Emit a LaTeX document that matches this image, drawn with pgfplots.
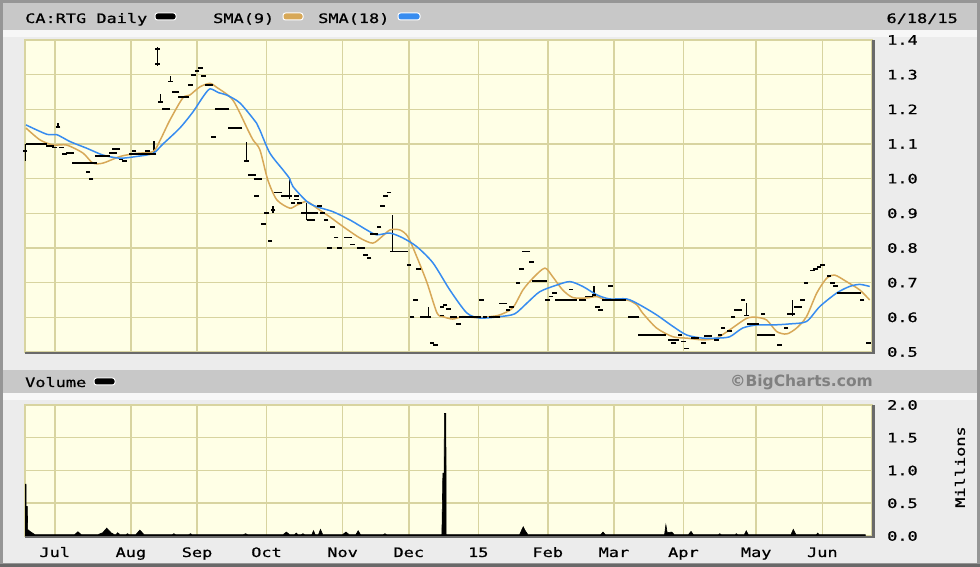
\documentclass[border=0pt]{standalone}
\usepackage{fontspec}
\usepackage{pgfplots}
\pgfplotsset{compat=1.18}
\newfontfamily\chartfont{DejaVu Sans Mono}[FakeStretch=1.3, FakeBold=0.8]
\newfontfamily\bcfont{DejaVu Sans Bold}
\newcommand\cf{\chartfont\fontsize{13pt}{15pt}\selectfont}
\definecolor{bgy}{RGB}{255,255,230}
\definecolor{gridc}{RGB}{216,212,160}
\definecolor{sma9}{RGB}{215,168,88}
\definecolor{sma18}{RGB}{55,140,240}
\definecolor{hdr}{RGB}{200,200,200}
\definecolor{panel}{RGB}{236,236,236}
\definecolor{framec}{RGB}{150,150,150}
\definecolor{shadowc}{RGB}{105,105,105}
\definecolor{bcgray}{RGB}{128,128,128}

\pgfplotstableread{
t p
0 1.08
1 1.10
2 1.10
3 1.10
4 1.10
5 1.10
6 1.10
7 1.095
8 1.095
9 1.09
10 1.15
11 1.09
12 1.07
13 1.075
14 1.075
15 1.045
16 1.045
17 1.045
18 1.045
19 1.045
19 1.02
20 1.045
20 1.00
21 1.045
22 1.065
23 1.065
24 1.065
25 1.065
26 1.075
27 1.075
27 1.085
28 1.085
29 1.055
30 1.05
32 1.07
33 1.07
33 1.08
34 1.07
35 1.07
36 1.07
37 1.07
37 1.08
38 1.07
39 1.07
40 1.33
40 1.375
41 1.22
42 1.20
43 1.20
44 1.28
45 1.25
46 1.25
47 1.235
48 1.235
49 1.235
50 1.27
51 1.30
52 1.31
53 1.32
54 1.295
55 1.27
56 1.27
57 1.12
58 1.20
59 1.20
60 1.20
61 1.20
62 1.145
63 1.145
64 1.145
65 1.145
67 1.05
68 1.01
69 1.01
70 1.00
70 0.95
71 1.00
72 0.87
73 0.90
74 0.82
75 0.91
76 0.96
77 0.96
78 0.95
79 0.95
80 0.95
81 0.93
82 0.94
82 0.95
83 0.93
84 0.90
85 0.90
86 0.90
86 0.88
87 0.90
87 0.88
88 0.90
89 0.92
90 0.90
91 0.88
92 0.80
93 0.86
94 0.83
95 0.80
97 0.83
98 0.83
99 0.81
101 0.80
102 0.80
103 0.78
104 0.77
105 0.84
106 0.84
107 0.86
108 0.92
109 0.95
110 0.96
111 0.79
112 0.79
113 0.79
114 0.79
115 0.79
116 0.75
117 0.60
118 0.65
119 0.74
120 0.60
121 0.60
122 0.60
123 0.525
124 0.52
126 0.63
126 0.605
127 0.635
128 0.625
129 0.60
130 0.60
131 0.58
132 0.60
133 0.60
134 0.60
135 0.60
136 0.60
137 0.60
138 0.65
139 0.60
141 0.60
142 0.60
143 0.60
144 0.64
145 0.64
146 0.62
147 0.63
149 0.70
150 0.74
151 0.79
152 0.79
153 0.76
154 0.705
155 0.705
156 0.705
157 0.705
158 0.65
159 0.66
160 0.67
161 0.65
162 0.65
163 0.65
164 0.65
165 0.65
165 0.68
166 0.65
168 0.65
169 0.65
170 0.66
171 0.66
172 0.665
173 0.63
174 0.62
175 0.65
176 0.65
177 0.65
177 0.69
178 0.65
179 0.65
180 0.65
181 0.65
183 0.60
184 0.60
185 0.60
186 0.55
187 0.55
188 0.55
189 0.55
190 0.55
191 0.55
192 0.55
193 0.55
195 0.535
196 0.535
196 0.525
197 0.535
198 0.55
199 0.53
200 0.51
202 0.54
203 0.54
205 0.525
206 0.545
207 0.545
209 0.535
210 0.55
211 0.57
213 0.56
214 0.60
215 0.62
216 0.62
217 0.65
218 0.605
219 0.58
220 0.58
221 0.58
222 0.55
223 0.55
223 0.61
224 0.55
225 0.55
226 0.55
228 0.52
230 0.57
231 0.61
232 0.61
233 0.63
234 0.63
235 0.65
236 0.70
238 0.735
239 0.74
240 0.745
241 0.75
243 0.72
244 0.70
245 0.69
246 0.67
247 0.67
248 0.67
249 0.67
250 0.67
251 0.67
252 0.67
253 0.65
255 0.525
}\closes

\pgfplotstableread{
t p
0.3 1.155
6.6 1.128
9.6 1.127
13.6 1.107
18.6 1.088
23.6 1.068
28.7 1.059
33.7 1.064
38.7 1.073
41.7 1.100
46.8 1.146
50.8 1.193
53.8 1.236
55.9 1.259
58.5 1.248
61 1.241
65 1.218
70 1.160
71 1.140
74 1.074
78 1.025
80 1.000
81 0.977
85.2 0.934
88.2 0.919
93 0.905
98.2 0.881
103.3 0.852
106.3 0.838
110.3 0.843
114.2 0.829
118.4 0.804
123.3 0.757
128.4 0.679
133.5 0.613
137.5 0.598
143.5 0.602
148 0.610
151.7 0.641
155.6 0.674
160.7 0.693
164.7 0.703
168.6 0.689
172.8 0.665
176.7 0.653
181.9 0.653
185.8 0.636
190.9 0.607
195.8 0.574
200 0.549
204.8 0.540
209 0.540
213 0.544
216.9 0.569
221.1 0.578
226 0.578
231.1 0.581
236.2 0.588
240.2 0.631
245.3 0.670
249.2 0.689
252.3 0.695
255.3 0.689
}\smaB

\pgfplotstableread{
t p
0.3 1.146
4.5 1.112
8.5 1.097
12.6 1.097
17.5 1.074
20.5 1.045
23.6 1.045
28.7 1.064
33.7 1.073
38.7 1.078
40.8 1.110
43.8 1.169
47.7 1.233
49.8 1.241
52.9 1.265
55.9 1.275
57.7 1.265
62.8 1.227
67.4 1.140
68.9 1.112
71 1.083
73.4 0.996
76.1 0.939
80 0.915
82.2 0.924
85.2 0.934
88.2 0.915
92.1 0.890
96.1 0.862
101.2 0.829
105.1 0.814
107.9 0.833
110.3 0.852
113.3 0.852
115.7 0.833
118.4 0.775
121.5 0.700
124.5 0.613
126.3 0.602
129.3 0.595
132.3 0.602
136.6 0.599
140.5 0.602
143.5 0.607
147.4 0.627
150.5 0.679
153.5 0.713
157.1 0.742
159.5 0.717
162.5 0.679
165.6 0.657
169.8 0.656
172.8 0.660
175.8 0.650
181.9 0.650
184.9 0.636
186.7 0.612
190.9 0.569
195.8 0.544
200 0.540
204.8 0.535
209 0.540
213 0.564
218.1 0.597
221.1 0.600
224.2 0.592
227.2 0.559
230.2 0.552
233.2 0.569
236.2 0.602
239.3 0.670
242.3 0.713
244.7 0.722
248.3 0.703
252.3 0.679
255.3 0.650
}\smaA

\pgfplotsset{
  bcaxis/.style={
    scale only axis,
    width=847pt,
    xmin=0, xmax=256,
    axis background/.style={fill=bgy},
    axis line style={draw=gridc, line width=1.2pt},
    grid=major,
    major grid style={draw=gridc, line width=1.5pt},
    major tick length=0pt,
    xtick={9,32,52,73,96,116,137,158,178,199,221,241},
    yticklabel pos=right,
    yticklabel style={anchor=west, inner sep=0pt, xshift=15pt, font=\cf},
  }
}

\begin{document}
\begin{tikzpicture}
\begin{scope}[x=1pt,y=1pt]
% frame and panels
\fill[framec] (0,0) rectangle (980,567);
\fill[panel] (3,4) rectangle (977,564);
\fill[shadowc] (0,0) rectangle (980,3);
\fill[hdr] (3,537) rectangle (977,564);
\fill[white!60!panel] (3,530) rectangle (977,537);
\fill[hdr] (3,174) rectangle (977,197);
\fill[white!60!panel] (3,167) rectangle (977,174);

% header texts
\node[anchor=base west, inner sep=0pt, font=\cf] at (25,544) {CA:RTG Daily};
\draw[white, line width=1pt, fill=black, rounded corners=2.5pt] (155,547) rectangle (176,554);
\node[anchor=base west, inner sep=0pt, font=\cf] at (213,544) {SMA(9)};
\draw[white, line width=1pt, fill=sma9, rounded corners=2.5pt] (283,547) rectangle (303,554);
\node[anchor=base west, inner sep=0pt, font=\cf] at (318,544) {SMA(18)};
\draw[white, line width=1pt, fill=sma18, rounded corners=2.5pt] (398,547) rectangle (420,554);
\node[anchor=base east, inner sep=0pt, font=\cf] at (958,544) {6/18/15};

\node[anchor=base west, inner sep=0pt, font=\cf] at (25,180) {Volume};
\draw[white, line width=1pt, fill=black, rounded corners=2.5pt] (94,182) rectangle (115,189);
\node[anchor=base east, inner sep=0pt, text=bcgray, font=\bcfont\fontsize{15.5pt}{17pt}\selectfont] at (873,180) {©BigCharts.com};
\end{scope}

% price panel
\begin{axis}[bcaxis, at={(25pt,215pt)}, anchor=south west, height=312pt,
  ymin=0.5, ymax=1.4,
  ytick={0.5,0.6,0.7,0.8,0.9,1.0,1.1,1.2,1.3,1.4},
  yticklabels={0.5,0.6,0.7,0.8,0.9,1.0,1.1,1.2,1.3,1.4},
  xticklabels={}]
\addplot[black, line width=1.3pt, unbounded coords=jump] coordinates {
 (0,1.05) (0,1.10) (0,nan)
 (10,1.15) (10,1.162) (10,nan)
 (39,1.07) (39,1.11) (39,nan)
 (40,1.325) (40,1.38) (40,nan)
 (41,1.22) (41,1.245) (41,nan)
 (44,1.28) (44,1.295) (44,nan)
 (67,1.05) (67,1.105) (67,nan)
 (75,0.90) (75,0.92) (75,nan)
 (80,0.94) (80,1.00) (80,nan)
 (85,0.88) (85,0.93) (85,nan)
 (111,0.79) (111,0.895) (111,nan)
 (122,0.60) (122,0.63) (122,nan)
 (172,0.665) (172,0.69) (172,nan)
 (218,0.605) (218,0.64) (218,nan)
 (232,0.605) (232,0.65)
};
\addplot[only marks, mark=-, mark size=2.3pt, mark options={line width=1.8pt, black}] table[x=t, y=p] {\closes};
\addplot[sma9, line width=1.5pt, smooth, tension=0.45] table[x=t, y=p] {\smaA};
\addplot[sma18, line width=1.5pt, smooth, tension=0.45] table[x=t, y=p] {\smaB};
\end{axis}

% volume panel
\begin{axis}[bcaxis, at={(25pt,31pt)}, anchor=south west, height=131pt,
  ymin=0, ymax=2,
  ytick={0,0.5,1,1.5,2},
  yticklabels={0.0,0.5,1.0,1.5,2.0},
  xticklabels={Jul,Aug,Sep,Oct,Nov,Dec,15,Feb,Mar,Apr,May,Jun},
  xticklabel style={anchor=base, inner sep=0pt, yshift=-21pt, font=\cf}]
\addplot[fill=black, draw=black, line width=0.6pt] coordinates {
 (0,0) (0,0.79) (0.3,0.79) (0.35,0.45) (0.7,0.45) (0.8,0.10) (1.5,0.07) (3,0.02)
 (15,0.02) (16,0.065) (17,0.02)
 (22,0.02) (23.5,0.05) (24.7,0.12) (26,0.05) (27,0.02)
 (27.5,0.02) (28,0.05) (28.7,0.02)
 (30.5,0.02) (31,0.035) (31.5,0.02)
 (33.5,0.02) (34.7,0.09) (36,0.02)
 (44.5,0.02) (45,0.035) (45.5,0.02)
 (49.5,0.02) (50,0.035) (50.5,0.02)
 (66,0.02) (66.7,0.035) (67.3,0.02)
 (78,0.02) (79,0.06) (80,0.02)
 (81.5,0.02) (82,0.045) (82.5,0.02)
 (83.5,0.02) (84,0.035) (84.5,0.02)
 (86.7,0.02) (87.2,0.08) (87.7,0.02)
 (88.7,0.02) (89.3,0.10) (90,0.02)
 (96,0.02) (97,0.06) (98,0.02)
 (100,0.02) (100.7,0.08) (101.4,0.02)
 (108.3,0.02) (108.8,0.035) (109.3,0.02)
 (126,0.02) (126.3,0.96) (126.7,0.96) (126.75,1.87) (127.2,1.87) (127.3,0.02)
 (149.5,0.02) (150.2,0.10) (150.6,0.14) (151.2,0.08) (152,0.02)
 (174,0.02) (174.7,0.06) (175.4,0.02)
 (193.3,0.02) (193.7,0.17) (194.1,0.05) (195.5,0.06) (196.2,0.02)
 (200.5,0.02) (201.3,0.07) (202,0.02)
 (209.6,0.02) (210,0.035) (210.4,0.02)
 (214.6,0.02) (215,0.035) (215.4,0.02)
 (217.4,0.02) (218,0.08) (218.6,0.02)
 (231.5,0.02) (232.2,0.10) (233,0.02)
 (239.2,0.02) (239.6,0.045) (240,0.02)
 (254,0.02) (254,0)
} \closedcycle;
\end{axis}

\begin{scope}[x=1pt,y=1pt]
% plot shadows
\fill[shadowc] (25,212.5) rectangle (874.5,215);
\fill[shadowc] (872,212.5) rectangle (874.5,527);
\fill[shadowc] (25,28.5) rectangle (874.5,31);
\fill[shadowc] (872,28.5) rectangle (874.5,162);
\node[rotate=90, font=\cf] at (960,100) {Millions};
\pgfresetboundingbox
\useasboundingbox (0,0) rectangle (980,567);
\end{scope}
\end{tikzpicture}
\end{document}
